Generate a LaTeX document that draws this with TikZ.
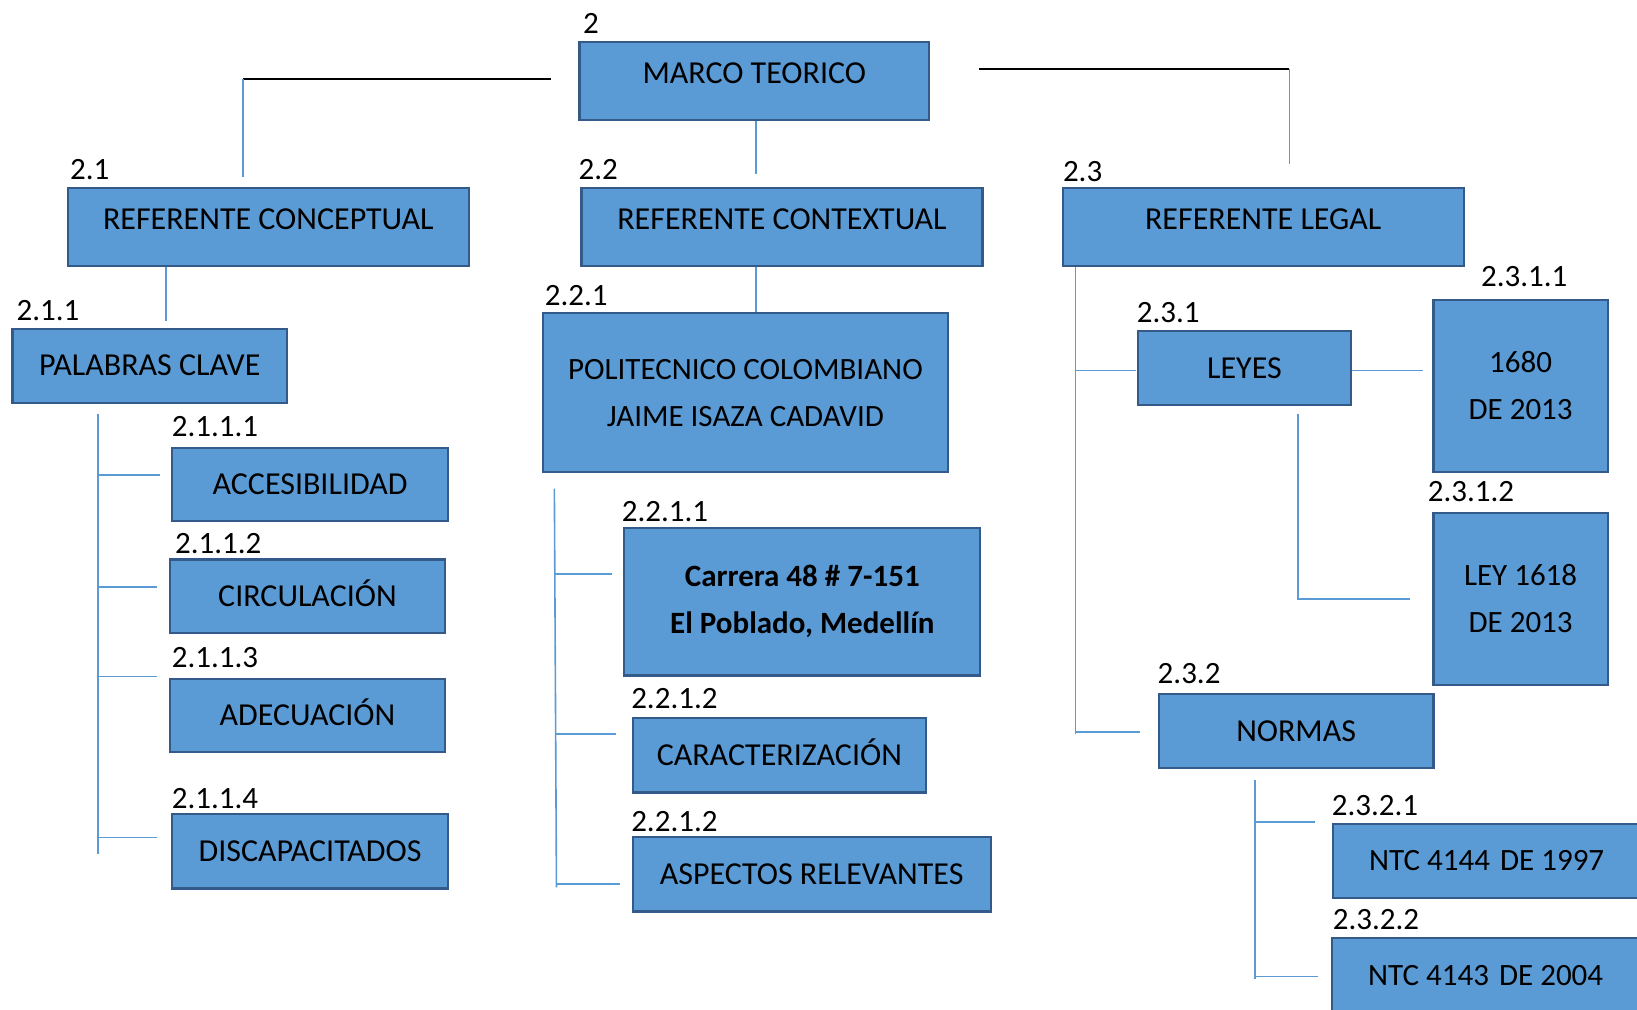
\documentclass[tikz,border=0pt]{standalone}
\usepackage{fontspec}
\setmainfont{Carlito}

\definecolor{boxfill}{RGB}{91,155,213}
\definecolor{boxline}{RGB}{52,90,138}
\definecolor{linkblue}{RGB}{91,155,213}

\tikzset{every picture/.style={line width=0.75pt}}
\tikzset{
  caja/.style={draw=boxline, fill=boxfill, line width=1.1pt, inner sep=0pt, font=\fontsize{15.5pt}{23.5pt}\selectfont},
  tam/.style 2 args={minimum width=#1*0.522pt, minimum height=#2*0.522pt},
  linea/.style={caja, font=\fontsize{16pt}{23.5pt}\selectfont, text height=10pt, text depth=0pt},
  alta/.style={linea, text depth=7.3pt},
  doble/.style={caja, align=center},
  num/.style={font=\fontsize{15.5pt}{18pt}\selectfont, inner sep=0pt},
  enlace/.style={draw=linkblue, line width=0.8pt},
  negra/.style={draw=black, line width=1.1pt}
}

\begin{document}
\begin{tikzpicture}[x=0.522pt,y=0.522pt,yscale=-1,xscale=1]
	\path[use as bounding box, clip] (0,0) rectangle (1568,967);

	%Boxes: level 1 and 2
	\node[alta, tam={335}{75}] (mt) at (722.5,77.5) {MARCO TEORICO};
	\node[alta, tam={384}{75}] (rc) at (257,217.5) {REFERENTE CONCEPTUAL};
	\node[alta, tam={384}{75}] (rx) at (749,217.5) {REFERENTE CONTEXTUAL};
	\node[alta, tam={384}{75}] (rl) at (1210,217.5) {REFERENTE LEGAL};

	%Boxes: referente conceptual
	\node[linea, tam={263}{71}] (pc) at (143.5,350.5) {PALABRAS CLAVE};
	\node[linea, tam={264}{70}] (acc) at (297,464) {ACCESIBILIDAD};
	\node[linea, tam={263}{70}] (cir) at (294.5,571) {CIRCULACIÓN};
	\node[linea, tam={263}{70}] (ade) at (294.5,685) {ADECUACIÓN};
	\node[linea, tam={264}{71}] (dis) at (297,815.5) {DISCAPACITADOS};

	%Boxes: referente contextual
	\node[doble, tam={388}{152}] (poli) at (714,376) {POLITECNICO COLOMBIANO\\JAIME ISAZA CADAVID};
	\node[doble, tam={341}{141}, font=\fontsize{15.5pt}{23.5pt}\selectfont\bfseries] (dir) at (768.5,576.5) {Carrera 48 \# 7-151\\El Poblado, Medellín};
	\node[linea, tam={281}{71}] (cz) at (746.5,723.5) {CARACTERIZACIÓN};
	\node[linea, tam={343}{71}] (asp) at (777.5,837.5) {ASPECTOS RELEVANTES};

	%Boxes: referente legal
	\node[linea, tam={204}{71}] (ley) at (1192,352.5) {LEYES};
	\node[doble, tam={167}{165}] (l1680) at (1456.5,369.5) {1680\\DE 2013};
	\node[doble, tam={167}{165}] (l1618) at (1456.5,573.5) {LEY 1618\\DE 2013};
	\node[linea, tam={263}{71}] (nor) at (1241.5,700.5) {NORMAS};
	\node[linea, tam={294}{71}, font=\fontsize{15.5pt}{23.5pt}\selectfont] (ntc1) at (1424,824.5) {NTC 4144\hspace{0.1em} DE 1997};
	\node[linea, tam={294}{71}, font=\fontsize{15.5pt}{23.5pt}\selectfont] (ntc2) at (1423,934) {NTC 4143\hspace{0.1em} DE 2004};

	%Numbers
	\node[num] (n2) at (566,22) {2};
	\node[num] (n21) at (86,162) {2.1};
	\node[num] (n22) at (573,162) {2.2};
	\node[num] (n23) at (1037,164) {2.3};
	\node[num] (n211) at (46,297) {2.1.1};
	\node[num] (n2111) at (206,409) {2.1.1.1};
	\node[num] (n2112) at (209,521) {2.1.1.2};
	\node[num] (n2113) at (206,630) {2.1.1.3};
	\node[num] (n2114) at (206,765) {2.1.1.4};
	\node[num] (n221) at (552,283) {2.2.1};
	\node[num] (n2211) at (637,490) {2.2.1.1};
	\node[num] (n2212) at (646,669) {2.2.1.2};
	\node[num] (n2213) at (646,787) {2.2.1.2};
	\node[num] (n231) at (1119,299) {2.3.1};
	\node[num] (n2311) at (1460,265) {2.3.1.1};
	\node[num] (n2312) at (1409,471) {2.3.1.2};
	\node[num] (n232) at (1139,645) {2.3.2};
	\node[num] (n2321) at (1317,772) {2.3.2.1};
	\node[num] (n2322) at (1318,881) {2.3.2.2};

	%Lines from marco teorico
	\coordinate (a1) at (528,76);
	\coordinate (a2) at (233,76);
	\coordinate (a3) at (233,170);
	\draw[negra] (a1) -- (a2);
	\draw[enlace] (a2) -- (a3);
	\coordinate (b1) at (724,167);
	\draw[enlace] (mt.south -| b1) -- (b1);
	\coordinate (c1) at (938,66);
	\coordinate (c2) at (1235,66);
	\coordinate (c3) at (1235,157);
	\draw[negra] (c1) -- (c2);
	\draw[enlace] (c2) -- (c3);

	%Lines referente conceptual
	\coordinate (d1) at (159,307);
	\draw[enlace] (rc.south -| d1) -- (d1);
	\coordinate (f1) at (94,397);
	\coordinate (f2) at (94,818);
	\coordinate (f3) at (153,455);
	\coordinate (f4) at (150,562);
	\coordinate (f5) at (150,648);
	\coordinate (f6) at (150,802);
	\draw[enlace] (f1) -- (f2);
	\draw[enlace] (f1 |- f3) -- (f3);
	\draw[enlace] (f1 |- f4) -- (f4);
	\draw[enlace] (f1 |- f5) -- (f5);
	\draw[enlace] (f1 |- f6) -- (f6);

	%Lines referente contextual
	\coordinate (e1) at (724,255);
	\draw[enlace] (rx.south -| e1) -- (poli.north -| e1);
	\coordinate (g1) at (531,468);
	\coordinate (g2) at (533,850);
	\coordinate (g3) at (586,550);
	\coordinate (g4) at (590,703);
	\coordinate (g5) at (594,847);
	\draw[enlace] (g1) -- (g2);
	\draw[enlace] (g1 |- g3) -- (g3);
	\draw[enlace] (g2 |- g4) -- (g4);
	\draw[enlace] (g2 |- g5) -- (g5);

	%Lines referente legal
	\coordinate (h1) at (1030,703);
	\coordinate (h2) at (1088,355);
	\coordinate (h3) at (1092,701);
	\draw[enlace] (rl.south -| h1) -- (h1);
	\draw[enlace] (h1 |- h2) -- (h2);
	\draw[enlace] (h1 |- h3) -- (h3);
	\coordinate (k1) at (1363,355);
	\draw[enlace] (ley.east |- k1) -- (k1);
	\coordinate (k2) at (1243,397);
	\coordinate (k3) at (1351,574);
	\draw[enlace] (k2) -- (k2 |- k3) -- (k3);
	\coordinate (m1) at (1202,747);
	\coordinate (m2) at (1202,938);
	\coordinate (m3) at (1260,787.5);
	\coordinate (m4) at (1262,935.5);
	\draw[enlace] (m1) -- (m2);
	\draw[enlace] (m1 |- m3) -- (m3);
	\draw[enlace] (m1 |- m4) -- (m4);

\end{tikzpicture}
\end{document}
